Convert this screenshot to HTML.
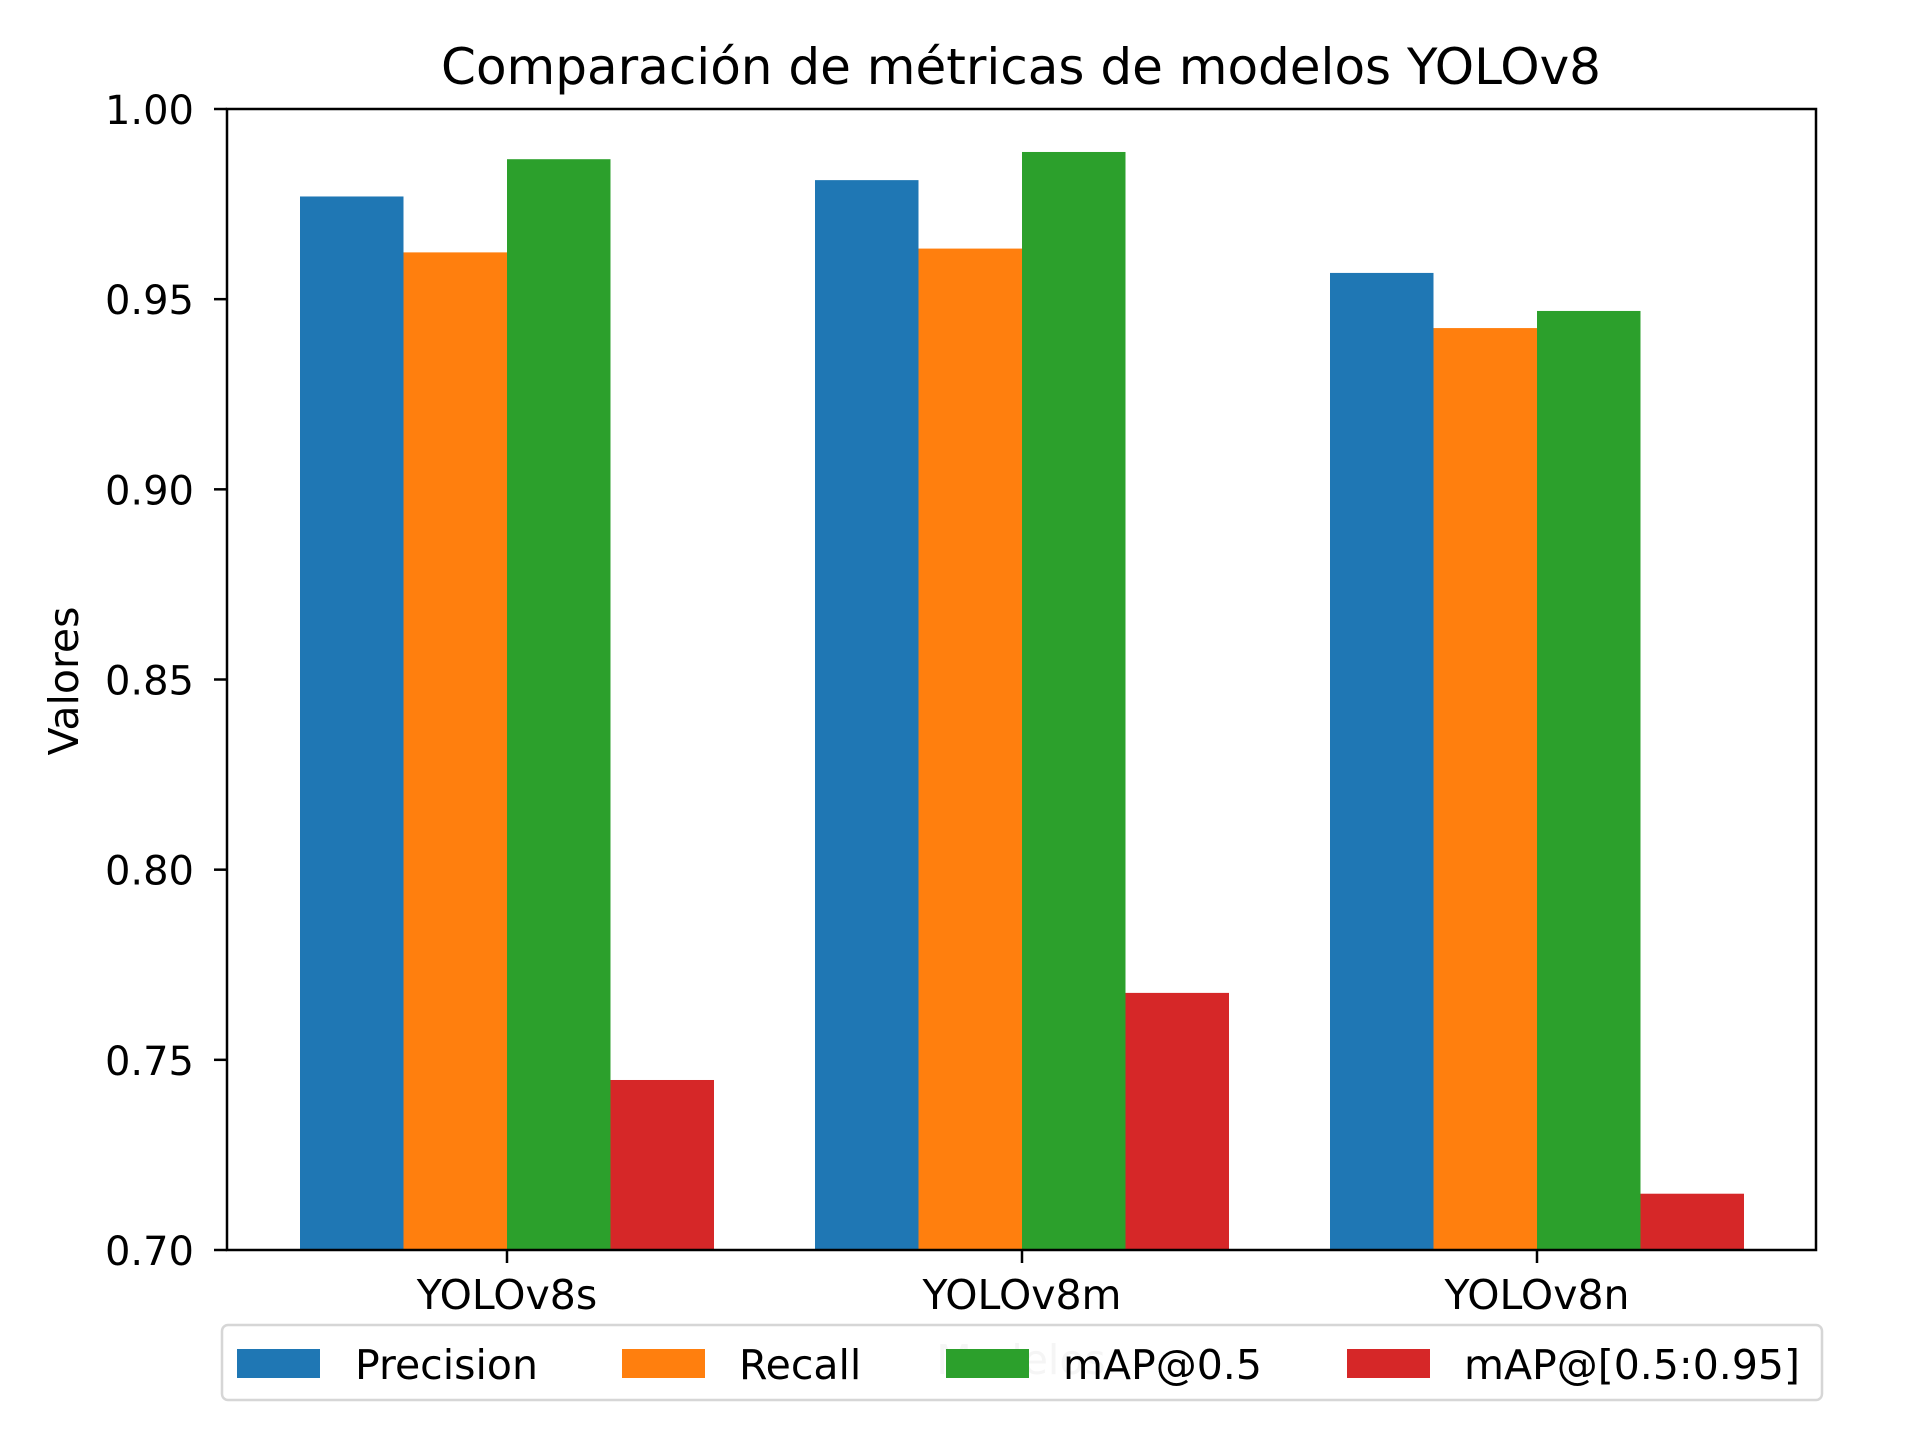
<!DOCTYPE html>
<html><head><meta charset="utf-8"><style>body{margin:0;background:#fff}svg{display:block}text{font-family:"DejaVu Sans","Liberation Sans",sans-serif}</style></head>
<body>
<svg id="chart" width="1920" height="1440" viewBox="0 0 1920 1440" xmlns="http://www.w3.org/2000/svg">
<text x="1021" y="84" font-size="50" text-anchor="middle">Comparación de métricas de modelos YOLOv8</text>
<text x="1021" y="1374" font-size="41" fill="#ccc" text-anchor="middle">Modelos</text>
<text x="0" y="0" font-size="41" text-anchor="middle" transform="translate(78,681) rotate(-90)">Valores</text>
<g id="bars"></g><g id="ticks"></g>
<rect x="227" y="109" width="1589" height="1141" fill="none" stroke="#000" stroke-width="2.5"/>
<g id="legend">
<rect x="222" y="1325" width="1600" height="75" rx="6" fill="#fff" fill-opacity="0.8" stroke="#d6d6d6" stroke-width="2.5"/>
</g>
</svg>
<script>
const categories=["YOLOv8s","YOLOv8m","YOLOv8n"];
const seriesNames=["Precision","Recall","mAP@0.5","mAP@[0.5:0.95]"];
const precision=[0.977,0.9813,0.9569];
const recall=[0.9623,0.9633,0.9424];
const map50=[0.9868,0.9887,0.9469];
const map5095=[0.7447,0.7676,0.7148];
const yTicks=[0.70,0.75,0.80,0.85,0.90,0.95,1.00];
const colors=["#1f77b4","#ff7f0e","#2ca02c","#d62728"];
const series=[precision,recall,map50,map5095];
const NS="http://www.w3.org/2000/svg";
const L=227,R=1816,T=109,B=1250,yMin=0.70,yMax=1.00;
const y=v=>B-(v-yMin)/(yMax-yMin)*(B-T);
const x=i=>507+i*515;
const bw=103.5;
const bars=document.getElementById('bars'),ticks=document.getElementById('ticks');
function mk(tag,attrs,parent){const e=document.createElementNS(NS,tag);for(const k in attrs)e.setAttribute(k,attrs[k]);parent.appendChild(e);return e;}
series.forEach((s,si)=>s.forEach((v,ci)=>{
 const r=mk('rect',{x:x(ci)+(si-2)*bw,y:y(v),width:bw,height:B-y(v),fill:colors[si]},bars);
 
 
}));
yTicks.forEach(t=>{
 const l=mk('line',{x1:L-13,x2:L,y1:y(t),y2:y(t),stroke:'#000','stroke-width':2.5},ticks);
 
 
 const tx=mk('text',{x:L-33,y:y(t)+15,'font-size':40,'text-anchor':'end'},ticks);
 tx.textContent=t.toFixed(2);
 
 
});
categories.forEach((c,i)=>{
 const l=mk('line',{x1:x(i),x2:x(i),y1:B,y2:B+13,stroke:'#000','stroke-width':2.5},ticks);
 
 
 const tx=mk('text',{x:x(i),y:B+59,'font-size':41,'text-anchor':'middle'},ticks);
 tx.textContent=c;
 
 
});
const lg=document.getElementById('legend');
const px=[237,622,946,1347],tx2=[355,739,1063,1464];
seriesNames.forEach((n,i)=>{
 const r=mk('rect',{x:px[i],y:1349,width:83,height:29,fill:colors[i]},lg);
 
 
 const t=mk('text',{x:tx2[i],y:1379,'font-size':41},lg);
 t.textContent=n;
 
 
});
</script>
</body></html>
